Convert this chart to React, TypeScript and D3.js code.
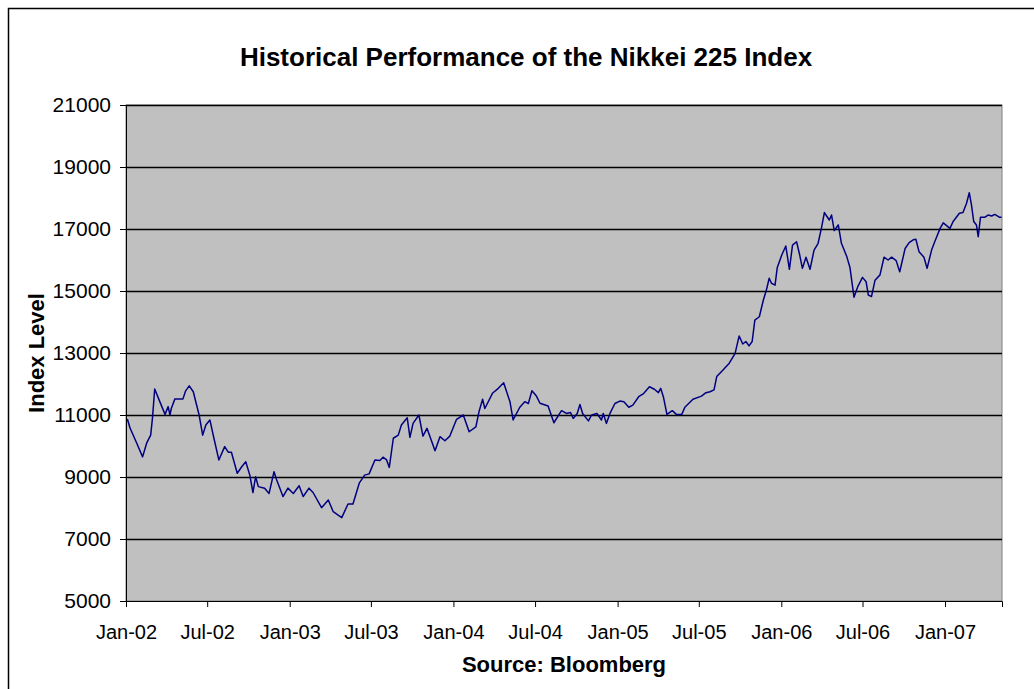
import React, { useEffect, useRef } from 'react';
import * as d3 from 'd3';

// Nikkei 225 closing levels (roughly weekly)
const dates = [
  '2002-01-04', '2002-01-10', '2002-01-25', '2002-02-07', '2002-02-16', '2002-02-25', '2002-03-01', '2002-03-06',
  '2002-03-16', '2002-03-29', '2002-04-05', '2002-04-09', '2002-04-12', '2002-04-20', '2002-05-08', '2002-05-14',
  '2002-05-22', '2002-05-31', '2002-06-13', '2002-06-21', '2002-06-28', '2002-07-07', '2002-07-16', '2002-07-27',
  '2002-08-09', '2002-08-17', '2002-08-24', '2002-09-06', '2002-09-16', '2002-09-25', '2002-10-04', '2002-10-11',
  '2002-10-17', '2002-10-23', '2002-11-06', '2002-11-16', '2002-11-27', '2002-12-03', '2002-12-17', '2002-12-28',
  '2003-01-09', '2003-01-22', '2003-01-31', '2003-02-13', '2003-02-22', '2003-03-13', '2003-03-28', '2003-04-08',
  '2003-04-19', '2003-04-27', '2003-05-11', '2003-05-22', '2003-06-05', '2003-06-17', '2003-06-27', '2003-07-10',
  '2003-07-21', '2003-07-28', '2003-08-05', '2003-08-11', '2003-08-20', '2003-08-31', '2003-09-07', '2003-09-20',
  '2003-09-26', '2003-10-03', '2003-10-16', '2003-10-25', '2003-11-03', '2003-11-21', '2003-12-02', '2003-12-13',
  '2003-12-24',
  '2004-01-08', '2004-01-23', '2004-02-05', '2004-02-20', '2004-02-27', '2004-03-06', '2004-03-11', '2004-03-28',
  '2004-04-10', '2004-04-22', '2004-05-06', '2004-05-13', '2004-05-28', '2004-06-08', '2004-06-16', '2004-06-24',
  '2004-07-04', '2004-07-12', '2004-07-30', '2004-08-12', '2004-08-25', '2004-08-29', '2004-09-09', '2004-09-18',
  '2004-09-24', '2004-10-03', '2004-10-09', '2004-10-15', '2004-10-28', '2004-11-04', '2004-11-16', '2004-11-26',
  '2004-11-30', '2004-12-07', '2004-12-15', '2004-12-26',
  '2005-01-06', '2005-01-15', '2005-01-26', '2005-02-04', '2005-02-17', '2005-02-27', '2005-03-13', '2005-03-24',
  '2005-04-02', '2005-04-07', '2005-04-13', '2005-04-21', '2005-05-03', '2005-05-12', '2005-05-24', '2005-05-31',
  '2005-06-18', '2005-07-07', '2005-07-17', '2005-07-26', '2005-08-04', '2005-08-10', '2005-08-24', '2005-09-07',
  '2005-09-20', '2005-09-29', '2005-10-07', '2005-10-14', '2005-10-21', '2005-10-28', '2005-11-03', '2005-11-13',
  '2005-11-22', '2005-11-29', '2005-12-05', '2005-12-10', '2005-12-18', '2005-12-23',
  '2006-01-02', '2006-01-11', '2006-01-19', '2006-01-26', '2006-02-04', '2006-02-11', '2006-02-17', '2006-02-25',
  '2006-03-06', '2006-03-15', '2006-03-24', '2006-04-01', '2006-04-07', '2006-04-12', '2006-04-18', '2006-04-23',
  '2006-04-29', '2006-05-08', '2006-05-15', '2006-05-27', '2006-06-03', '2006-06-12', '2006-06-21', '2006-07-01',
  '2006-07-09', '2006-07-14', '2006-07-21', '2006-07-29', '2006-08-09', '2006-08-18', '2006-08-27', '2006-09-04',
  '2006-09-14', '2006-09-22', '2006-10-04', '2006-10-13', '2006-10-22', '2006-10-28', '2006-11-04', '2006-11-15',
  '2006-11-22', '2006-12-02', '2006-12-09', '2006-12-21', '2006-12-28',
  '2007-01-12', '2007-01-19', '2007-02-02', '2007-02-10', '2007-02-18', '2007-02-24', '2007-03-01', '2007-03-06',
  '2007-03-12', '2007-03-16', '2007-03-21', '2007-03-31', '2007-04-07', '2007-04-15', '2007-04-22', '2007-05-02',
  '2007-05-07',
];

const levels = [
  10870, 10580, 10090, 9650, 10090, 10350, 10900, 11840,
  11480, 11020, 11270, 11000, 11210, 11520, 11520, 11780,
  11940, 11750, 11000, 10350, 10680, 10840, 10250, 9550,
  9980, 9800, 9800, 9120, 9330, 9490, 9060, 8500,
  9010, 8690, 8640, 8470, 9170, 8900, 8370, 8640,
  8470, 8720, 8370, 8640, 8500, 8010, 8260, 7880,
  7770, 7690, 8130, 8130, 8800, 9060, 9100, 9550,
  9530, 9640, 9550, 9310, 10250, 10350, 10680, 10910,
  10280, 10730, 11000, 10320, 10570, 9850, 10300, 10170,
  10320,
  10860, 11000, 10460, 10620, 11110, 11510, 11210, 11700,
  11860, 12040, 11430, 10840, 11250, 11430, 11370, 11780,
  11610, 11380, 11290, 10750, 11050, 11140, 11050, 11080,
  10890, 11050, 11340, 11050, 10810, 11000, 11050, 10840,
  11050, 10730, 11050, 11370,
  11450, 11430, 11250, 11320, 11590, 11680, 11910, 11830,
  11720, 11860, 11590, 11020, 11140, 11020, 11020, 11250,
  11510, 11610, 11720, 11750, 11810, 12240, 12450, 12670,
  12990, 13550, 13290, 13370, 13230, 13370, 14060, 14170,
  14710, 15050, 15410, 15250, 15190, 15760,
  16160, 16450, 15700, 16480, 16590, 16160, 15730, 16090,
  15700, 16320, 16540, 17070, 17530, 17420, 17290, 17450,
  16950, 17130, 16540, 16110, 15760, 14800, 15160, 15440,
  15300, 14870, 14820, 15350, 15520, 16090, 16000, 16090,
  15980, 15620, 16370, 16560, 16650, 16670, 16270, 16090,
  15730, 16320, 16590, 17020, 17200,
  17020, 17240, 17510, 17530, 17830, 18170, 17770, 17240,
  17130, 16750, 17380, 17380, 17450, 17420, 17470, 17380,
  17380,
];

const yTicks = [5000, 7000, 9000, 11000, 13000, 15000, 17000, 19000, 21000];
const xTickDates = [
  '2002-01-01', '2002-07-01', '2003-01-01', '2003-07-01', '2004-01-01', '2004-07-01',
  '2005-01-01', '2005-07-01', '2006-01-01', '2006-07-01', '2007-01-01',
];
const xTickLabels = [
  'Jan-02', 'Jul-02', 'Jan-03', 'Jul-03', 'Jan-04', 'Jul-04',
  'Jan-05', 'Jul-05', 'Jan-06', 'Jul-06', 'Jan-07',
];

const W = 1034;
const H = 689;
const FONT = 'Liberation Sans, Arial, Helvetica, sans-serif';

export default function App() {
  const ref = useRef<SVGSVGElement>(null);

  useEffect(() => {
    const svg = d3.select(ref.current);
    svg.selectAll('*').remove();

    const parse = d3.utcParse('%Y-%m-%d');
    const plot = { left: 126, right: 1002, top: 105, bottom: 601 };

    const x = d3
      .scaleUtc()
      .domain([parse('2002-01-01') as Date, parse('2007-05-08') as Date])
      .range([plot.left, plot.right]);

    const y = d3.scaleLinear().domain([5000, 21000]).range([plot.bottom, plot.top]);

    // chart frame
    svg
      .append('rect')
      .attr('x', 8.5)
      .attr('y', 8.5)
      .attr('width', 1040)
      .attr('height', 700)
      .attr('fill', '#fff')
      .attr('stroke', '#000')
      .attr('stroke-width', 1.5);

    // plot area
    svg
      .append('rect')
      .attr('x', plot.left)
      .attr('y', plot.top)
      .attr('width', plot.right - plot.left)
      .attr('height', plot.bottom - plot.top)
      .attr('fill', '#c0c0c0')
      .attr('stroke', '#808080')
      .attr('stroke-width', 1);

    // gridlines
    svg
      .append('g')
      .selectAll('line')
      .data(yTicks.slice(1))
      .enter()
      .append('line')
      .attr('x1', plot.left)
      .attr('x2', plot.right)
      .attr('y1', d => Math.round(y(d)) + 0.5)
      .attr('y2', d => Math.round(y(d)) + 0.5)
      .attr('stroke', '#000')
      .attr('stroke-width', 1.3);

    // y axis
    const yAxis = d3
      .axisLeft(y)
      .tickValues(yTicks)
      .tickSize(6)
      .tickPadding(9)
      .tickFormat(d3.format('d'));

    const yG = svg
      .append('g')
      .attr('transform', `translate(${plot.left},0)`)
      .call(yAxis);
    yG.attr('font-size', 21).attr('font-family', FONT);
    yG.selectAll('text').attr('fill', '#000');
    yG.selectAll('line, path').attr('stroke', '#000');

    // x axis
    const xAxis = d3
      .axisBottom(x)
      .tickValues(xTickDates.map(d => parse(d) as Date))
      .tickSize(6)
      .tickPadding(18)
      .tickFormat((_d, i) => xTickLabels[i]);

    const xG = svg
      .append('g')
      .attr('transform', `translate(0,${plot.bottom})`)
      .call(xAxis);
    xG.attr('font-size', 20).attr('font-family', FONT);
    xG.selectAll('text').attr('fill', '#000');
    xG.selectAll('line, path').attr('stroke', '#000');

    // index line
    const points = dates.map((d, i) => [parse(d) as Date, levels[i]] as [Date, number]);
    const line = d3
      .line<[Date, number]>()
      .x(d => x(d[0]))
      .y(d => y(d[1]));

    svg
      .append('path')
      .datum(points)
      .attr('d', line)
      .attr('fill', 'none')
      .attr('stroke', '#000080')
      .attr('stroke-width', 1.5)
      .attr('stroke-linejoin', 'round');

    // titles
    svg
      .append('text')
      .attr('x', 526)
      .attr('y', 66)
      .attr('text-anchor', 'middle')
      .attr('font-family', FONT)
      .attr('font-weight', 'bold')
      .attr('font-size', 26)
      .text('Historical Performance of the Nikkei 225 Index');

    svg
      .append('text')
      .attr('x', (plot.left + plot.right) / 2)
      .attr('y', 672)
      .attr('text-anchor', 'middle')
      .attr('font-family', FONT)
      .attr('font-weight', 'bold')
      .attr('font-size', 22)
      .text('Source: Bloomberg');

    svg
      .append('text')
      .attr('transform', `translate(43.5,${(plot.top + plot.bottom) / 2}) rotate(-90)`)
      .attr('text-anchor', 'middle')
      .attr('font-family', FONT)
      .attr('font-weight', 'bold')
      .attr('font-size', 22)
      .text('Index Level');
  }, []);

  return (
    <svg
      ref={ref}
      width={W}
      height={H}
      style={{ position: 'absolute', left: 0, top: 0, background: '#fff' }}
    />
  );
}
